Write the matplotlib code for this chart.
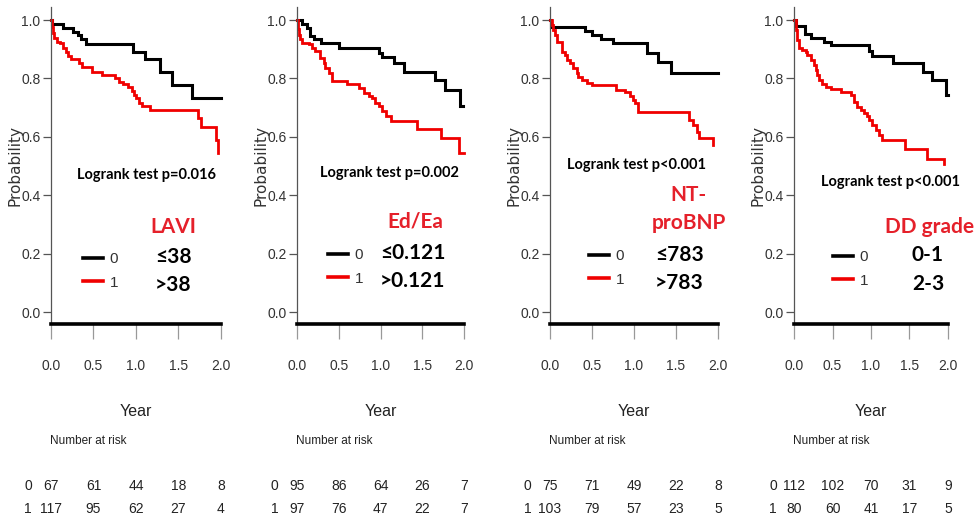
import matplotlib
matplotlib.use("Agg")
import matplotlib.pyplot as plt
from matplotlib import font_manager, transforms

# ---------------------------------------------------------------- data
risk_times = [0.0, 0.5, 1.0, 1.5, 2.0]
x_ticks = [0.0, 0.5, 1.0, 1.5, 2.0]
x_tick_labels = ["0.0", "0.5", "1.0", "1.5", "2.0"]
y_ticks = [0.0, 0.2, 0.4, 0.6, 0.8, 1.0]
y_tick_labels = ["0.0", "0.2", "0.4", "0.6", "0.8", "1.0"]

# LAVI
lavi_low_t = [0, 0.016, 0.145, 0.263, 0.314, 0.353, 0.408, 0.969, 1.106, 1.282, 1.427, 1.655]
lavi_low_s = [1.0, 0.986, 0.971, 0.960, 0.949, 0.934, 0.917, 0.892, 0.865, 0.823, 0.777, 0.734]
lavi_low_end = 2.0
lavi_high_t = [0, 0.008, 0.02, 0.04, 0.067, 0.106, 0.145, 0.173, 0.204, 0.235, 0.333, 0.361,
               0.478, 0.604, 0.753, 0.80, 0.851, 0.91, 0.949, 0.98, 0.996, 1.035, 1.075,
               1.165, 1.733, 1.765, 1.94, 1.96]
lavi_high_s = [1.0, 0.975, 0.955, 0.94, 0.926, 0.92, 0.903, 0.892, 0.877, 0.865, 0.852, 0.84,
               0.823, 0.812, 0.80, 0.789, 0.78, 0.77, 0.757, 0.743, 0.732, 0.717, 0.705,
               0.692, 0.663, 0.632, 0.589, 0.543]
lavi_high_end = 1.97
lavi_risk0 = [67, 61, 44, 18, 8]
lavi_risk1 = [117, 95, 62, 27, 4]

# Ed/Ea
ed_low_t = [0, 0.06, 0.12, 0.16, 0.20, 0.29, 0.50, 0.986, 1.018, 1.158, 1.277, 1.657, 1.768, 1.956]
ed_low_s = [1.0, 0.985, 0.974, 0.945, 0.934, 0.922, 0.905, 0.888, 0.874, 0.854, 0.823, 0.793, 0.759, 0.705]
ed_low_end = 1.99
ed_high_t = [0, 0.01, 0.025, 0.04, 0.06, 0.14, 0.18, 0.22, 0.28, 0.32, 0.34, 0.38, 0.42, 0.60,
             0.74, 0.80, 0.86, 0.90, 0.94, 0.98, 1.02, 1.06, 1.12, 1.44, 1.72, 1.94]
ed_high_s = [1.0, 0.97, 0.95, 0.935, 0.922, 0.917, 0.905, 0.894, 0.871, 0.854, 0.837, 0.82, 0.791,
             0.782, 0.768, 0.751, 0.74, 0.734, 0.717, 0.705, 0.688, 0.671, 0.654, 0.626, 0.597, 0.546]
ed_high_end = 2.0
ed_risk0 = [95, 86, 64, 26, 7]
ed_risk1 = [97, 76, 47, 22, 7]

# NT-proBNP
nt_low_t = [0, 0.012, 0.417, 0.496, 0.607, 0.754, 1.151, 1.282, 1.437]
nt_low_s = [1.0, 0.977, 0.963, 0.949, 0.934, 0.92, 0.888, 0.857, 0.817]
nt_low_end = 2.0
nt_high_t = [0, 0.02, 0.04, 0.06, 0.08, 0.139, 0.179, 0.198, 0.238, 0.278, 0.317, 0.337, 0.377,
             0.437, 0.496, 0.782, 0.893, 0.952, 0.992, 1.012, 1.052, 1.655, 1.706, 1.746, 1.774, 1.937]
nt_high_s = [1.0, 0.983, 0.966, 0.949, 0.926, 0.892, 0.88, 0.863, 0.852, 0.834, 0.817, 0.806, 0.795,
             0.785, 0.777, 0.76, 0.755, 0.74, 0.726, 0.715, 0.686, 0.658, 0.64, 0.618, 0.595, 0.572]
nt_high_end = 1.94
nt_risk0 = [75, 71, 49, 22, 8]
nt_risk1 = [103, 79, 57, 23, 5]

# DD grade
dd_low_t = [0, 0.022, 0.143, 0.216, 0.39, 0.476, 0.974, 1.009, 1.286, 1.675, 1.797, 1.978]
dd_low_s = [1.0, 0.979, 0.952, 0.937, 0.924, 0.914, 0.895, 0.878, 0.852, 0.823, 0.795, 0.743]
dd_low_end = 2.0
dd_high_t = [0, 0.022, 0.043, 0.065, 0.108, 0.152, 0.173, 0.216, 0.26, 0.281, 0.303, 0.325, 0.368,
             0.411, 0.476, 0.606, 0.736, 0.779, 0.823, 0.866, 0.909, 0.952, 0.974, 1.009, 1.061,
             1.104, 1.147, 1.442, 1.732, 1.948]
dd_high_s = [1.0, 0.966, 0.932, 0.903, 0.897, 0.892, 0.88, 0.863, 0.846, 0.829, 0.812, 0.795, 0.781,
             0.772, 0.763, 0.755, 0.743, 0.72, 0.703, 0.692, 0.68, 0.671, 0.658, 0.64, 0.623,
             0.606, 0.589, 0.557, 0.523, 0.507]
dd_high_end = 1.95
dd_risk0 = [112, 102, 70, 31, 9]
dd_risk1 = [80, 60, 41, 17, 5]

titles = ["LAVI", "Ed/Ea", "NT-\nproBNP", "DD grade"]
p_texts = ["Logrank test p=0.016", "Logrank test p=0.002", "Logrank test p<0.001", "Logrank test p<0.001"]
cut_labels = [("≤38", ">38"), ("≤0.121", ">0.121"), ("≤783", ">783"), ("0-1", "2-3")]
group_labels = ["0", "1"]

panels = [
    dict(low=(lavi_low_t, lavi_low_s, lavi_low_end), high=(lavi_high_t, lavi_high_s, lavi_high_end),
         risk=(lavi_risk0, lavi_risk1)),
    dict(low=(ed_low_t, ed_low_s, ed_low_end), high=(ed_high_t, ed_high_s, ed_high_end),
         risk=(ed_risk0, ed_risk1)),
    dict(low=(nt_low_t, nt_low_s, nt_low_end), high=(nt_high_t, nt_high_s, nt_high_end),
         risk=(nt_risk0, nt_risk1)),
    dict(low=(dd_low_t, dd_low_s, dd_low_end), high=(dd_high_t, dd_high_s, dd_high_end),
         risk=(dd_risk0, dd_risk1)),
]

# ---------------------------------------------------------------- layout (pixels)
W, H = 979, 525
AX_TOP, AX_BOT = 7, 324
ax_left = [51, 297, 550, 794]
ax_right = [221, 464, 718, 948]
p_pos = [(147, 175), (389, 173), (637, 165), (891, 182)]
title_pos = [(173, 227), (415, 222), (689, 209), (930, 227)]
legend_pos = [(83, 271), (328, 267), (589, 268), (833, 269)]
cut_pos = [(155, 257, 285), (380, 253, 281), (655, 255, 283), (912, 255, 284)]
Y_TICKLAB, Y_YEAR, Y_NAR, Y_ROW0, Y_ROW1 = 366, 412, 441, 486, 509

BLACK = "#000000"
RED = "#f00000"
RED_TXT = "#e5202a"

names = {f.name for f in font_manager.fontManager.ttflist}
if "Liberation Sans Narrow" in names:
    narrow = dict(family="Liberation Sans Narrow")
else:
    narrow = dict(family="Liberation Sans")
bold_sans = dict(family=["Lato", "DejaVu Sans"], fontweight="bold")


def fx(px):
    return px / W


def fy(py):
    return 1 - py / H


fig = plt.figure(figsize=(W / 100, H / 100), dpi=100)
fig.patch.set_facecolor("white")

for i, pnl in enumerate(panels):
    l, r = ax_left[i], ax_right[i]
    ax = fig.add_axes([fx(l), fy(AX_BOT), (r - l) / W, (AX_BOT - AX_TOP) / H])
    ax.set_xlim(0, 2.0)
    ax.set_ylim(-12 / 292, 1 + 13 / 292)

    handles = []
    for key, col, lw in (("low", BLACK, 2.2), ("high", RED, 2.0)):
        t, s, end = pnl[key]
        (ln,) = ax.step(list(t) + [end], list(s) + [s[-1]], where="post",
                        color=col, lw=lw, clip_on=False, solid_joinstyle="miter")
        handles.append(ln)

    for side in ("top", "right"):
        ax.spines[side].set_visible(False)
    ax.spines["left"].set_color("#555555")
    ax.spines["left"].set_linewidth(0.9)
    ax.spines["bottom"].set_color("black")
    ax.spines["bottom"].set_linewidth(2.6)

    ax.set_xticks(x_ticks)
    ax.set_xticklabels(x_tick_labels, fontsize=10, color="#333333", **narrow)
    ax.set_yticks(y_ticks)
    ax.set_yticklabels(y_tick_labels, fontsize=10, color="#333333", **narrow)
    ax.tick_params(axis="x", direction="out", length=11, width=0.9, color="#999999", pad=14)
    ax.tick_params(axis="y", direction="out", length=6, width=0.9, color="#555555", pad=1.5)

    # axis title texts
    fig.text(fx(l - 36), fy(166), "Probability", rotation=90, ha="center", va="center",
             fontsize=11, color="#333333", family="DejaVu Sans")
    bt = transforms.blended_transform_factory(ax.transData, fig.transFigure)
    ax.text(1.0, fy(Y_YEAR), "Year", transform=bt, ha="center", va="center",
            fontsize=11.5, color="#222222", clip_on=False, **narrow)
    ax.text(-0.01, fy(Y_NAR), "Number at risk", transform=bt, ha="left", va="center",
            fontsize=8.5, color="#222222", clip_on=False, **narrow)

    # number at risk table
    for row_y, lab, counts in ((Y_ROW0, group_labels[0], pnl["risk"][0]),
                               (Y_ROW1, group_labels[1], pnl["risk"][1])):
        ax.text(-0.27, fy(row_y), lab, transform=bt, ha="center", va="center",
                fontsize=10, color="#222222", clip_on=False, **narrow)
        for tx, n in zip(risk_times, counts):
            ax.text(tx, fy(row_y), str(n), transform=bt, ha="center", va="center",
                    fontsize=10, color="#222222", clip_on=False, **narrow)

    # legend of the two groups
    fs_leg = 11
    leg = ax.legend(handles, group_labels, loc="center left",
                    bbox_to_anchor=(fx(legend_pos[i][0]), fy(legend_pos[i][1])),
                    bbox_transform=fig.transFigure, frameon=False, borderpad=0,
                    borderaxespad=0, handlelength=20 / (fs_leg * 100 / 72),
                    handletextpad=0.45, labelspacing=0.6,
                    prop=font_manager.FontProperties(size=fs_leg, **narrow))
    for txt in leg.get_texts():
        txt.set_color("#333333")
    for lh in leg.get_lines():
        lh.set_linewidth(2.6)

    # annotation texts
    fig.text(fx(p_pos[i][0]), fy(p_pos[i][1]), p_texts[i], ha="center", va="center",
             fontsize=10.5, color="black", **bold_sans)
    fig.text(fx(title_pos[i][0]), fy(title_pos[i][1]), titles[i], ha="center", va="center",
             fontsize=15, color=RED_TXT, linespacing=1.45, **bold_sans)
    cx, cy0, cy1 = cut_pos[i]
    fig.text(fx(cx), fy(cy0), cut_labels[i][0], ha="left", va="center",
             fontsize=15, color="black", **bold_sans)
    fig.text(fx(cx), fy(cy1), cut_labels[i][1], ha="left", va="center",
             fontsize=15, color="black", **bold_sans)

fig.savefig("out.png", dpi=100, facecolor="white")
